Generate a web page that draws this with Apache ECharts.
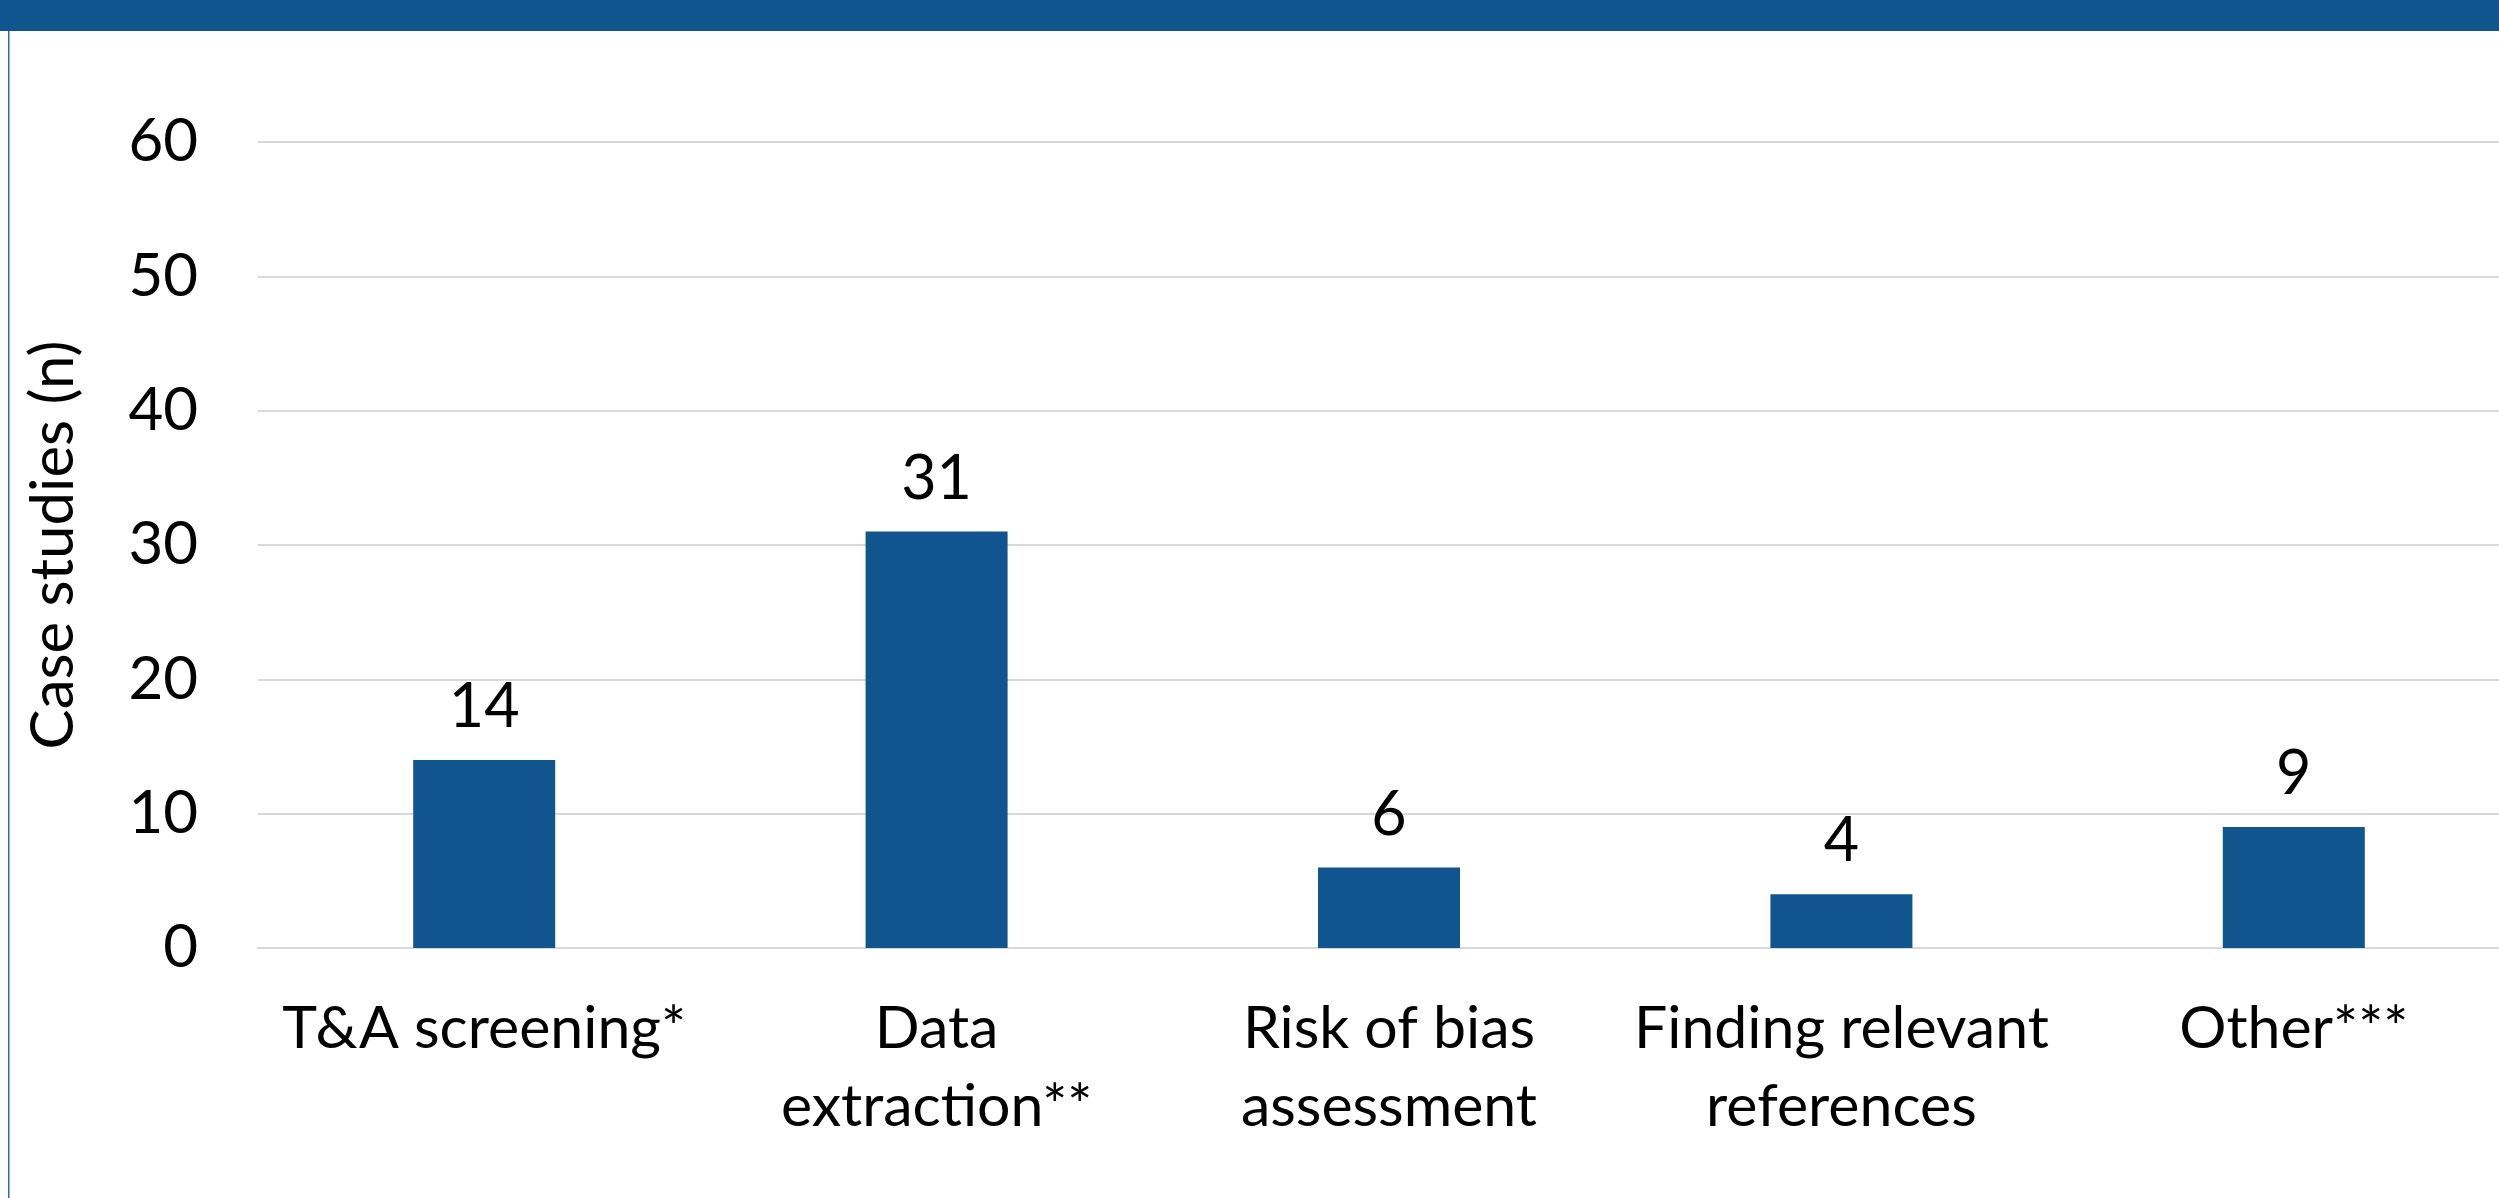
<!DOCTYPE html>
<html>
<head>
<meta charset="utf-8">
<script src="https://cdn.jsdelivr.net/npm/echarts@6/dist/echarts.min.js"></script>
<style>
  html, body { margin: 0; padding: 0; background: #fff; overflow: hidden; }
  #chart { width: 2520px; height: 1198px; }
</style>
</head>
<body>
<div id="chart"></div>
<script>
(function () {
    'use strict';

    var categories = ['T&A screening*', 'Data\nextraction**', 'Risk of bias\nassessment', 'Finding relevant\nreferences', 'Other***'];
    var caseStudies = [14, 31, 6, 4, 9];
    var yTicks = [0, 10, 20, 30, 40, 50, 60];

    var blue = '#10558e';
    var font = 'Lato, "Open Sans", sans-serif';

    // plot runs a little past the right edge of the page, as in the source
    var chart = echarts.init(document.getElementById('chart'));

    chart.setOption({
        animation: false,
        backgroundColor: '#fff',
        graphic: [
            { type: 'rect', shape: { x: 0, y: 0, width: 2520, height: 31 }, style: { fill: blue } },
            { type: 'rect', shape: { x: 8, y: 31, width: 1.5, height: 1167 }, style: { fill: '#2f6aa3' } }
        ],
        grid: { left: 258, right: 0, top: 142, bottom: 250 },
        xAxis: {
            type: 'category',
            data: categories,
            axisLine: { show: true, lineStyle: { color: '#d9d9d9', width: 2 } },
            axisTick: { show: false },
            axisLabel: {
                color: '#000', fontFamily: font, fontSize: 59, lineHeight: 78,
                margin: 42, interval: 0
            }
        },
        yAxis: {
            type: 'value',
            min: yTicks[0],
            max: yTicks[yTicks.length - 1],
            interval: 10,
            name: 'Case studies (n)',
            nameLocation: 'middle',
            nameGap: 174,
            nameTextStyle: { color: '#000', fontFamily: font, fontSize: 60 },
            axisLine: { show: false },
            axisTick: { show: false },
            axisLabel: { color: '#000', fontFamily: font, fontSize: 60, margin: 60 },
            splitLine: { lineStyle: { color: '#d9d9d9', width: 2 } }
        },
        series: [{
            type: 'bar',
            data: caseStudies,
            barWidth: 142,
            itemStyle: { color: blue },
            label: {
                show: true, position: 'top', distance: 22,
                color: '#000', fontFamily: font, fontSize: 61
            }
        }]
    });
})();
</script>
</body>
</html>
